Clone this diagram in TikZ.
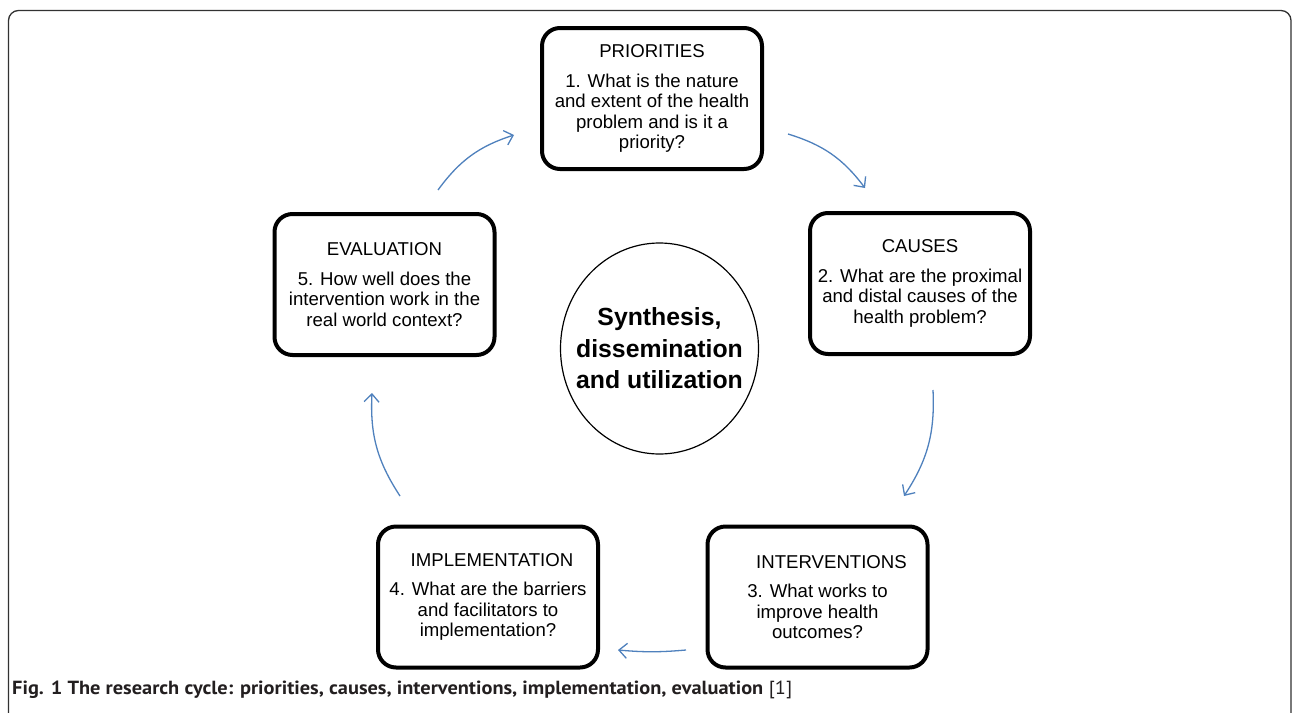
\documentclass[tikz,border=0pt]{standalone}
\usepackage{fontspec}
\setmainfont{Liberation Sans}
\newfontfamily\capfont{PT Sans}
\usetikzlibrary{arrows.meta,shapes.geometric}
\definecolor{arrowblue}{RGB}{79,129,189}
\definecolor{framegray}{RGB}{50,50,50}
\definecolor{captext}{RGB}{35,31,32}
\begin{document}
\begin{tikzpicture}[x=1pt,y=-1pt,
  stage/.style={draw, line width=4pt, rounded corners=18pt, minimum width=220pt,
    minimum height=141pt, align=center, inner sep=0pt,
    font=\fontsize{18.6}{20.5}\selectfont},
  flow/.style={draw=arrowblue, line width=1.3pt,
    -{Straight Barb[length=8pt,width=15pt]}, bend left=18},
  core/.style={draw, line width=1.2pt, ellipse, minimum width=198pt,
    minimum height=211pt, inner sep=0pt},
  coretext/.style={align=center, inner sep=0pt,
    font=\bfseries\fontsize{24.8}{31.5}\selectfont}]
\useasboundingbox (0,0) rectangle (1292,712);
\clip (0,0) rectangle (1292,712);
\fill[white] (0,0) rectangle (1292,712);
\draw[framegray, line width=1.3pt, rounded corners=10pt] (8.5,10.5) rectangle (1291,760);

\node[stage] (pri) at (652,98.5) {PRIORITIES\\[9pt]1. What is the nature\\and extent of the health\\problem and is it a\\priority?};
\node[stage] (cau) at (920,283.5) {CAUSES\\[9pt]2. What are the proximal\\and distal causes of the\\health problem?};
\node[stage] (int) at (817.5,597) {\hspace*{28pt}INTERVENTIONS\\[9pt]3. What works to\\improve health\\outcomes?};
\node[stage] (imp) at (488,597) {\hspace*{8pt}IMPLEMENTATION\\[9pt]4. What are the barriers\\and facilitators to\\implementation?};
\node[stage] (eva) at (384.5,284.5) {EVALUATION\\[9pt]5. How well does the\\intervention work in the\\real world context?};

\node[core] (hub) at (659.5,348.5) {};
\node[coretext] (hubtext) at (hub.center) {Synthesis,\\dissemination\\and utilization};

\coordinate (a1s) at (438,190); \coordinate (a1e) at (514,135);
\coordinate (a2s) at (788,134); \coordinate (a2e) at (865,188);
\coordinate (a3s) at (933,390); \coordinate (a3e) at (904,496);
\coordinate (a4s) at (686,650); \coordinate (a4e) at (618,650);
\coordinate (a5s) at (400,496); \coordinate (a5e) at (372,393);
\draw[flow] (a1s) to (a1e);
\draw[flow] (a2s) to (a2e);
\draw[flow] (a3s) to (a3e);
\draw[flow, bend left=5] (a4s) to (a4e);
\draw[flow] (a5s) to (a5e);

\node[anchor=base west, inner sep=0pt, text=captext] (cap) at (12,694)
  {\resizebox{780pt}{\height}{\capfont\fontsize{19}{22}\selectfont\textbf{Fig. 1 The research cycle: priorities, causes, interventions, implementation, evaluation} [1]}};
\end{tikzpicture}
\end{document}
